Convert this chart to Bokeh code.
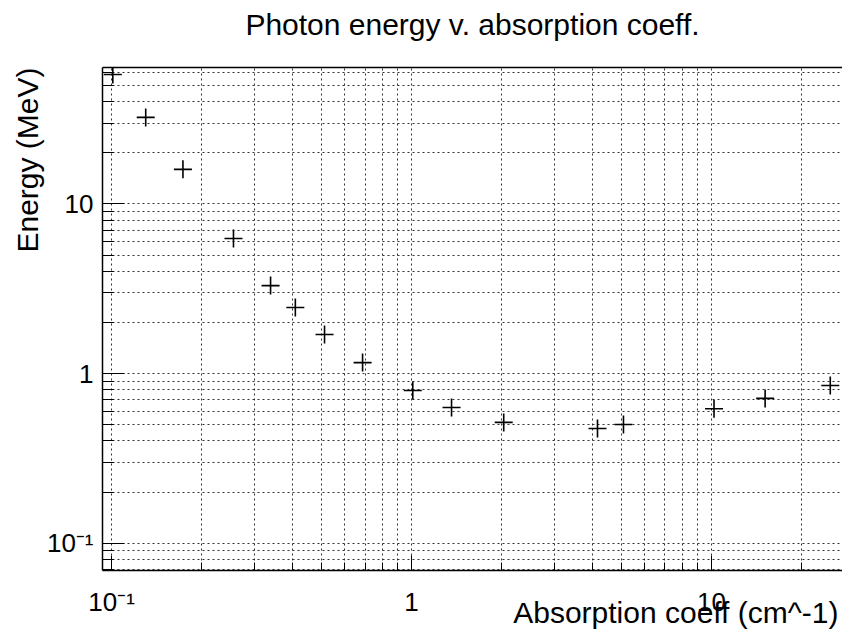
import math
from bokeh.plotting import figure
from bokeh.models import (FixedTicker, LinearAxis, LogAxis, Range1d, LogScale,
                          ColumnDataSource, Grid, Title)
from bokeh.embed import file_html
from bokeh.resources import INLINE

# ---- data ----
absorption = [0.101, 0.130, 0.173, 0.255, 0.339, 0.41, 0.513, 0.687,
              1.01, 1.36, 2.03, 4.17, 5.09, 10.2, 15.1, 24.9]
energy = [58.0, 32.4, 16.0, 6.25, 3.30, 2.45, 1.70, 1.16,
          0.794, 0.63, 0.515, 0.474, 0.50, 0.62, 0.713, 0.85]

x_major = [0.1, 1, 10]
x_minor = [0.2, 0.3, 0.4, 0.5, 0.6, 0.7, 0.8, 0.9,
           2, 3, 4, 5, 6, 7, 8, 9, 20]
y_major = [0.1, 1, 10]
y_minor = [0.07, 0.08, 0.09, 0.2, 0.3, 0.4, 0.5, 0.6, 0.7, 0.8, 0.9,
           2, 3, 4, 5, 6, 7, 8, 9, 20, 30, 40, 50, 60]
tick_labels = {0.1: "10\u207b\u00b9", 1: "1", 10: "10"}

title_text = "Photon energy v. absorption coeff."
x_title = "Absorption coeff (cm^-1)"
y_title = "Energy (MeV)"

FONT = "Liberation Sans"

x_start, x_end = 0.0933, 27.35
y_start, y_end = 0.0689, 63.8

p = figure(width=842, height=633,
           x_range=Range1d(x_start, x_end), y_range=Range1d(y_start, y_end),
           x_axis_type=None, y_axis_type=None,
           output_backend="svg", toolbar_location=None,
           min_border_left=102, min_border_right=0, min_border_top=67,
           min_border_bottom=63)
p.x_scale = LogScale()
p.y_scale = LogScale()
p.outline_line_color = None
p.background_fill_color = "white"
p.border_fill_color = "white"
p.title.text = ""
p.title.standoff = 0

xt = FixedTicker(ticks=x_major, minor_ticks=x_minor)
yt = FixedTicker(ticks=y_major, minor_ticks=y_minor)

xa = LogAxis(ticker=xt)
ya = LogAxis(ticker=yt)
for ax in (xa, ya):
    ax.major_label_overrides = tick_labels
    ax.major_label_text_font = FONT
    ax.major_label_text_font_size = "26px"
    ax.major_label_text_color = "black"
    ax.axis_line_color = "black"
    ax.axis_line_width = 1.5
    ax.major_tick_line_color = "black"
    ax.minor_tick_line_color = "black"
    ax.major_tick_out = 0
    ax.minor_tick_out = 0
xa.major_tick_in = 15
xa.minor_tick_in = 8
xa.major_label_standoff = 16
ya.major_tick_in = 22
ya.minor_tick_in = 11
ya.major_label_standoff = 9
p.add_layout(xa, "below")
p.add_layout(ya, "left")

# top frame line carrying the chart title
top = LinearAxis(ticker=FixedTicker(ticks=[]), major_label_text_font_size="0px",
                 major_label_standoff=0,
                 major_tick_in=0, major_tick_out=0, minor_tick_in=0,
                 minor_tick_out=0, axis_line_color="black", axis_line_width=1.5,
                 axis_label=title_text, axis_label_text_font=FONT,
                 axis_label_text_font_size="30px",
                 axis_label_text_font_style="normal",
                 axis_label_text_color="black", axis_label_standoff=27)
p.add_layout(top, "above")

for dim, tk in ((0, xt), (1, yt)):
    g = Grid(dimension=dim, ticker=tk)
    g.grid_line_color = "#333333"
    g.grid_line_dash = "2 3"
    g.grid_line_width = 1
    g.minor_grid_line_color = "#333333"
    g.minor_grid_line_dash = "2 3"
    g.minor_grid_line_width = 1
    p.add_layout(g)

src = ColumnDataSource(dict(x=absorption, y=energy))
p.scatter("x", "y", source=src, marker="cross", size=18, line_width=1.6,
          line_color="black")

p.add_layout(Title(text=y_title, align="right", text_font=FONT,
                   text_font_size="30px", text_font_style="normal",
                   text_color="black", standoff=0), "left")
p.add_layout(Title(text=x_title, align="right", vertical_align="top",
                   text_font=FONT,
                   text_font_size="30px", text_font_style="normal",
                   text_color="black", standoff=-48, offset=4), "below")

open("out.html", "w").write(file_html(p, INLINE))
